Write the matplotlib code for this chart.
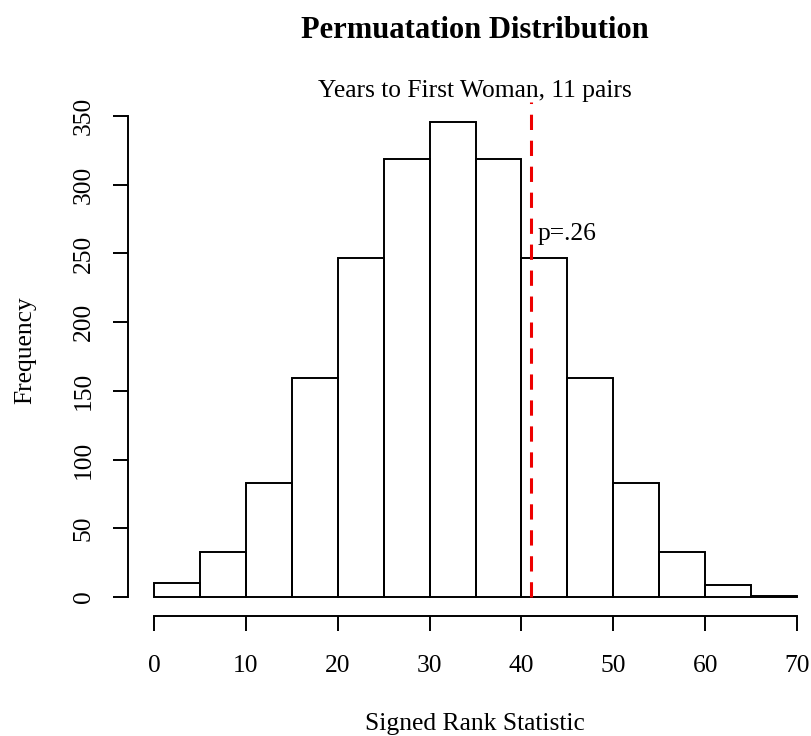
import numpy as np
import matplotlib
matplotlib.use("Agg")
import matplotlib.pyplot as plt

# conteos del histograma (estadistico de rangos con signo, 11 pares)
bin_edges = [0, 5, 10, 15, 20, 25, 30, 35, 40, 45, 50, 55, 60, 65, 70]
counts = [10, 33, 83, 159, 247, 319, 346, 319, 247, 159, 83, 33, 9, 1]
observed = 41
p_label = "p=.26"
x_ticks = [0, 10, 20, 30, 40, 50, 60, 70]
y_ticks = [0, 50, 100, 150, 200, 250, 300, 350]

plt.rcParams['font.family'] = ['Liberation Serif', 'DejaVu Serif']
fs = 18.4

W, H = 812, 736
fig = plt.figure(figsize=(W / 100, H / 100), dpi=100)

# region del grafico en pixeles (como R, se sale un poco por la derecha)
left, right, top, bottom = 128.3, 822.7, 102.5, 616.0
ax = fig.add_axes([left / W, 1 - bottom / H, (right - left) / W, (bottom - top) / H])
ax.patch.set_visible(False)

widths = np.diff(bin_edges)
ax.bar(bin_edges[:-1], counts, width=widths, align='edge', fill=False,
       edgecolor='black', linewidth=1.4)

ax.set_xlim(-2.8, 72.8)
ax.set_ylim(-0.04 * max(counts), max(counts) * 1.04)

ax.plot([observed, observed], [0, ax.get_ylim()[1]], color='#ee0000', lw=2.2,
        linestyle=(0, (5, 3.5)), clip_on=False)
ax.text(observed + 0.75, 260, p_label, ha='left', va='baseline', fontsize=fs)

for s in ['top', 'right']:
    ax.spines[s].set_visible(False)
ax.spines['bottom'].set_bounds(0, 70)
ax.spines['left'].set_bounds(0, 350)
for s in ['bottom', 'left']:
    ax.spines[s].set_linewidth(1.4)

ax.set_xticks(x_ticks)
ax.set_yticks(y_ticks)
ax.tick_params(axis='both', direction='out', length=11, width=1.4, labelsize=fs)
ax.tick_params(axis='x', pad=17)
ax.tick_params(axis='y', pad=13)
for lab in ax.get_yticklabels():
    lab.set_rotation(90)
    lab.set_va('center')

fig.text(475 / W, 1 - 30 / H, "Permuatation Distribution", ha='center', va='center',
         fontsize=22, fontweight='bold')
fig.text(475 / W, 1 - 91 / H, "Years to First Woman, 11 pairs", ha='center', va='center',
         fontsize=fs)
fig.text(475 / W, 1 - 724 / H, "Signed Rank Statistic", ha='center', va='center', fontsize=fs)
fig.text(25 / W, 1 - 350 / H, "Frequency", ha='center', va='center', rotation=90, fontsize=fs)

plt.savefig("out.png", dpi=100)
